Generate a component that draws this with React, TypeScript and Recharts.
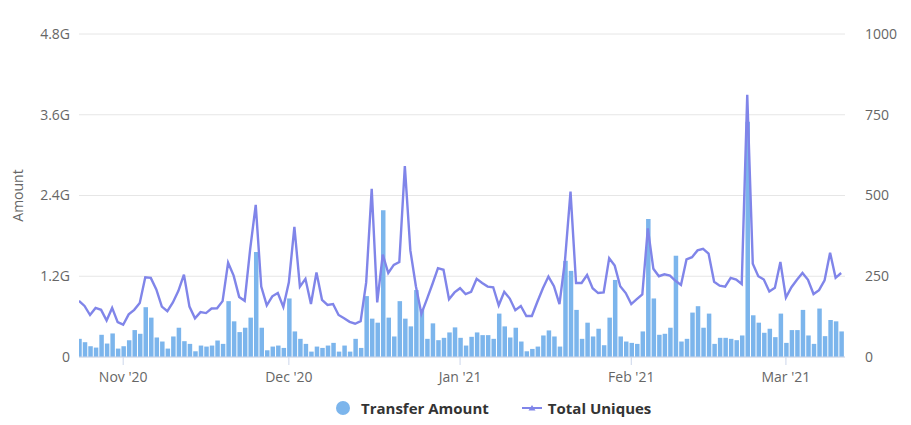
import { Bar, CartesianGrid, ComposedChart, Legend, Line, XAxis, YAxis } from 'recharts'

// first day of the series: 24 Oct 2020, one point per day
const startDay = Date.UTC(2020, 9, 24)
const monthNames = ['Jan', 'Feb', 'Mar', 'Apr', 'May', 'Jun', 'Jul', 'Aug', 'Sep', 'Oct', 'Nov', 'Dec']

// transfer amount, in G
const amountG = [
  0.27, 0.22, 0.16, 0.14, 0.33, 0.2, 0.35, 0.125, 0.16, 0.25,
  0.4, 0.345, 0.74, 0.585, 0.29, 0.23, 0.125, 0.305, 0.435, 0.235,
  0.195, 0.085, 0.17, 0.155, 0.17, 0.245, 0.195, 0.83, 0.53, 0.37,
  0.435, 0.585, 1.56, 0.435, 0.1, 0.155, 0.17, 0.135, 0.87, 0.38,
  0.27, 0.195, 0.08, 0.155, 0.135, 0.17, 0.21, 0.08, 0.17, 0.08,
  0.27, 0.135, 0.905, 0.57, 0.51, 2.18, 0.585, 0.305, 0.83, 0.57,
  0.455, 0.995, 0.71, 0.27, 0.5, 0.25, 0.285, 0.365, 0.44, 0.285,
  0.17, 0.3, 0.365, 0.325, 0.325, 0.27, 0.645, 0.455, 0.29, 0.435,
  0.23, 0.085, 0.12, 0.155, 0.32, 0.395, 0.305, 0.155, 1.43, 1.28,
  0.7, 0.27, 0.51, 0.305, 0.42, 0.175, 0.585, 1.145, 0.305, 0.23,
  0.21, 0.195, 0.38, 2.05, 0.87, 0.33, 0.345, 0.435, 1.505, 0.23,
  0.27, 0.66, 0.755, 0.435, 0.645, 0.195, 0.285, 0.285, 0.27, 0.25,
  0.32, 3.495, 0.62, 0.51, 0.36, 0.42, 0.295, 0.645, 0.21, 0.4,
  0.4, 0.7, 0.32, 0.195, 0.72, 0.31, 0.55, 0.53, 0.38,
]

const uniques = [
  174, 158, 130, 152, 146, 113, 152, 108, 100, 132,
  146, 167, 247, 245, 209, 156, 142, 169, 205, 255,
  156, 120, 139, 136, 150, 151, 173, 292, 252, 186,
  174, 335, 471, 218, 160, 188, 198, 155, 231, 403,
  218, 242, 164, 262, 177, 161, 164, 130, 120, 109,
  103, 111, 231, 521, 169, 317, 260, 285, 294, 591,
  330, 219, 134, 179, 226, 275, 270, 179, 200, 213,
  195, 202, 242, 229, 218, 216, 160, 202, 181, 145,
  158, 127, 127, 171, 213, 249, 219, 164, 299, 512,
  229, 229, 254, 213, 198, 200, 306, 283, 219, 198,
  164, 179, 194, 398, 273, 250, 256, 252, 236, 223,
  302, 309, 330, 335, 320, 233, 221, 218, 245, 240,
  226, 812, 289, 250, 240, 203, 214, 294, 184, 216,
  239, 260, 239, 195, 207, 237, 323, 245, 260,
]

const monthTicks = [8, 38, 69, 100, 128]
const amountTicks = [0, 1.2, 2.4, 3.6, 4.8]
const uniqueTicks = [0, 250, 500, 750, 1000]

const data = amountG.map((a, i) => ({ idx: i, amount: a, uniques: uniques[i] }))

const BAR = '#7cb5ec'
const LINE = '#8085e9'
const tickStyle = { fontSize: 14, fill: '#666666' }

function monthLabel(i: number) {
  const d = new Date(startDay + i * 86400000)
  return `${monthNames[d.getUTCMonth()]} '${String(d.getUTCFullYear()).slice(2)}`
}

function amountLabel(v: number) {
  return v === 0 ? '0' : `${v.toFixed(1)}G`
}

function AmountTitle(props: any) {
  const { viewBox } = props
  const x = viewBox.x + 17
  const y = viewBox.y + viewBox.height / 2
  return (
    <text x={x} y={y} transform={`rotate(-90 ${x} ${y})`} textAnchor="middle" dominantBaseline="central" fontSize={14} fill="#666666">
      Amount
    </text>
  )
}

function LegendContent() {
  return (
    <div
      style={{
        height: 44,
        boxSizing: 'border-box',
        paddingTop: 10,
        paddingLeft: 336,
        display: 'flex',
        alignItems: 'center',
        fontSize: 15,
        fontWeight: 700,
        color: '#333333',
      }}
    >
      <span style={{ display: 'inline-block', width: 14, height: 14, borderRadius: '50%', background: BAR, marginRight: 11 }} />
      <span>Transfer Amount</span>
      <svg width={20} height={14} style={{ marginLeft: 33, marginRight: 6 }}>
        <line x1={0} y1={7} x2={20} y2={7} stroke={LINE} strokeWidth={2} />
        <path d="M10 4 L13.5 9.5 L6.5 9.5 Z" fill={LINE} />
      </svg>
      <span>Total Uniques</span>
    </div>
  )
}

export default function App() {
  return (
    <div style={{ position: 'absolute', left: 0, top: 0, fontFamily: '"Open Sans", sans-serif' }}>
      <ComposedChart width={911} height={425} data={data} margin={{ top: 34, right: 0, bottom: 0, left: 0 }}>
        <CartesianGrid yAxisId="left" vertical={false} stroke="#e6e6e6" />
        <XAxis
          dataKey="idx"
          type="number"
          domain={[0, 138.7]}
          ticks={monthTicks}
          tickFormatter={monthLabel}
          height={24}
          tick={tickStyle}
          tickSize={8}
          tickMargin={7}
          stroke="#ccd6eb"
          tickLine={{ stroke: '#ccd6eb' }}
          allowDataOverflow
        />
        <YAxis
          yAxisId="left"
          orientation="left"
          width={79}
          domain={[0, 4.8]}
          ticks={amountTicks}
          tickFormatter={amountLabel}
          tick={tickStyle}
          axisLine={false}
          tickLine={false}
          tickSize={0}
          tickMargin={9}
          label={<AmountTitle />}
        />
        <YAxis
          yAxisId="right"
          orientation="right"
          width={66}
          domain={[0, 1000]}
          ticks={uniqueTicks}
          tick={{ ...tickStyle, textAnchor: 'start' }}
          axisLine={false}
          tickLine={false}
          tickSize={0}
          tickMargin={20}
        />
        <Legend content={<LegendContent />} verticalAlign="bottom" />
        <Bar yAxisId="left" dataKey="amount" name="Transfer Amount" fill={BAR} barSize={4.5} isAnimationActive={false} />
        <Line
          yAxisId="right"
          type="linear"
          dataKey="uniques"
          name="Total Uniques"
          stroke={LINE}
          strokeWidth={2.4}
          dot={false}
          isAnimationActive={false}
        />
      </ComposedChart>
    </div>
  )
}
